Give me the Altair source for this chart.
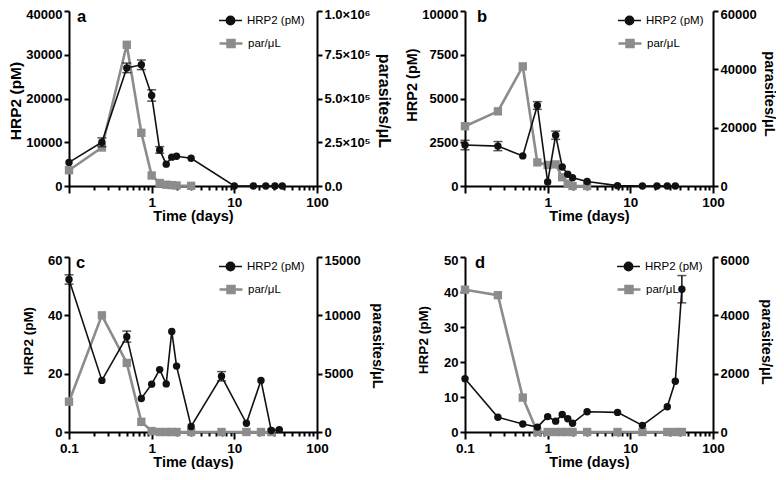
import altair as alt
import pandas as pd

FONT = "Liberation Sans"
S1 = "HRP2 (pM)"
S2 = "par/μL"
BLACK = "#111111"
GREY = "#8c8c8c"

# ---------------- data ----------------
a_t = [0.1, 0.25, 0.5, 0.75, 1, 1.25, 1.5, 1.75, 2, 3, 10, 17, 24, 31, 38]
a_hrp2 = [5400, 10000, 27000, 27700, 20700, 8250, 5000, 6600, 6800, 6350, 0, 0, 0, 0, 0]
a_par_t = [0.1, 0.25, 0.5, 0.75, 1, 1.25, 1.5, 1.75, 2, 3]
a_par = [90000, 220000, 807000, 304000, 60000, 17000, 7500, 5000, 3000, 1000]
a_err_t = [0.25, 0.5, 0.75, 1, 1.25]
a_err = [1000, 1100, 1100, 1300, 750]

b_t = [0.1, 0.25, 0.5, 0.75, 1, 1.25, 1.5, 1.75, 2, 3, 7, 14, 21, 28, 35]
b_hrp2 = [2340, 2280, 1720, 4600, 225, 2900, 1085, 670, 470, 260, 20, 0, 0, 0, 0]
b_par_t = [0.1, 0.25, 0.5, 0.75, 1, 1.25, 1.5, 1.75, 2, 3]
b_par = [20500, 25600, 41000, 8100, 7200, 7400, 3000, 800, 0, 0]
b_err_t = [0.1, 0.25, 0.75, 1.25]
b_err = [270, 260, 220, 235]

c_t = [0.1, 0.25, 0.5, 0.75, 1, 1.25, 1.5, 1.75, 2, 3, 7, 14, 21, 28, 35]
c_hrp2 = [52.3, 17.7, 32.7, 11.5, 16.4, 21.4, 16.5, 34.5, 22.6, 1.9, 19.1, 3.0, 17.7, 0.5, 0.8]
c_par_t = [0.1, 0.25, 0.5, 0.75, 1, 1.25, 1.5, 1.75, 2, 3, 7, 14, 21, 28]
c_par = [2600, 10000, 5920, 870, 80, 0, 0, 0, 0, 0, 0, 0, 0, 0]
c_err_t = [0.1, 0.5, 7]
c_err = [1.6, 1.9, 1.6]

d_t = [0.1, 0.25, 0.5, 0.75, 1, 1.25, 1.5, 1.75, 2, 3, 7, 14, 28, 35, 42]
d_hrp2 = [15.2, 4.2, 2.3, 1.4, 4.4, 3.1, 5.0, 3.8, 2.5, 5.8, 5.6, 1.9, 7.2, 14.5, 40.8]
d_par_t = [0.1, 0.25, 0.5, 0.75, 1, 1.25, 1.5, 1.75, 2, 3, 7, 14, 28, 35, 42]
d_par = [4880, 4690, 1180, 0, 0, 0, 0, 0, 0, 0, 0, 0, 0, 0, 0]
d_err_t = [42]
d_err = [3.9]

x_ticks = [0.1, 0.2, 0.3, 0.4, 0.5, 0.6, 0.7, 0.8, 0.9,
           1, 2, 3, 4, 5, 6, 7, 8, 9,
           10, 20, 30, 40, 50, 60, 70, 80, 90, 100]

a_left_ticks = [0, 10000, 20000, 30000, 40000]
a_right_ticks = [0, 250000, 500000, 750000, 1000000]
b_left_ticks = [0, 2500, 5000, 7500, 10000]
b_right_ticks = [0, 20000, 40000, 60000]
c_left_ticks = [0, 20, 40, 60]
c_right_ticks = [0, 5000, 10000, 15000]
d_left_ticks = [0, 10, 20, 30, 40, 50]
d_right_ticks = [0, 2000, 4000, 6000]

# ---------------- layout ----------------
W, H = 248, 175

DECADE = "abs(log(datum.value)/LN10 - round(log(datum.value)/LN10)) < 0.001"
SCI = ("datum.value == 0 ? '0.0' : datum.value >= 1000000 ? "
       "format(datum.value/1000000, '.1f') + '×10⁶' : "
       "format(datum.value/100000, '.1f') + '×10⁵'")

CIRC = "M-1,0H1M0.36,0A0.36,0.36,0,1,1,-0.36,0A0.36,0.36,0,1,1,0.36,0Z"
SQR = "M-1,0H1M-0.3,-0.3H0.3V0.3H-0.3Z"


def legend(legx, legy, shape, colour, sw):
    return alt.Legend(
        orient="none", legendX=legx, legendY=legy, title=None,
        symbolSize=529, symbolType=shape, symbolFillColor=colour,
        symbolStrokeColor=colour, symbolStrokeWidth=sw, symbolOpacity=1,
        labelFontSize=11.5, labelFont=FONT, labelColor="black",
        labelFontWeight="normal", padding=0, rowPadding=0, labelOffset=4,
    )


def top_shift(vmax):
    return {"condition": {"test": "datum.value >= " + str(vmax), "value": 3.5},
            "value": 0}


def panel(letter, t, hrp, pt, par, et, ee, lmax, lv, rmax, rv, rexpr,
          show01, ltx, lty, lf, rtx, rty, rf, legx, lx):
    hrp_df = pd.DataFrame({"t": t, "v": hrp, "s": S1})
    par_df = pd.DataFrame({"t": pt, "v": par, "s": S2})
    center = dict(zip(t, hrp))
    err_df = pd.DataFrame({
        "t": et,
        "lo": [center[x] - e for x, e in zip(et, ee)],
        "hi": [center[x] + e for x, e in zip(et, ee)],
    })

    if show01:
        lab = DECADE + " ? format(datum.value, '~g') : ''"
    else:
        lab = "(" + DECADE + ") && datum.value > 0.5 ? format(datum.value, '~g') : ''"

    xaxis = alt.Axis(values=x_ticks, title="Time (days)", labelExpr=lab,
                     tickSize={"condition": {"test": DECADE, "value": 7}, "value": 4},
                     labelFlush=False, labelOverlap=False, labelPadding=2,
                     labelFontSize=13.5, titleFontSize=14.5, titlePadding=1)
    X = alt.X("t:Q", scale=alt.Scale(type="log", domain=[0.1, 100], nice=False),
              axis=xaxis)

    laxis = alt.Axis(orient="left", values=lv, format="d", title="HRP2 (pM)",
                     titleFontSize=lf, titleX=ltx, titleY=lty, titleAngle=-90,
                     titleBaseline="bottom", titleAlign="center",
                     labelFlush=False, labelOffset=top_shift(lmax))
    lscale = alt.Scale(domain=[0, lmax], nice=False)

    rkw = dict(orient="right", values=rv, title="parasites/μL", titleFontSize=rf,
               titleX=rtx, titleY=rty, titleAngle=90, titleBaseline="bottom",
               titleAlign="center", labelFlush=False, labelOffset=top_shift(rmax))
    if rexpr:
        raxis = alt.Axis(labelExpr=rexpr, **rkw)
    else:
        raxis = alt.Axis(format="d", **rkw)
    rscale = alt.Scale(domain=[0, rmax], nice=False)

    col1 = alt.Color("s:N", scale=alt.Scale(domain=[S1], range=[BLACK]),
                     legend=legend(legx, -3, CIRC, BLACK, 1.6))
    col2 = alt.Stroke("s:N", scale=alt.Scale(domain=[S2], range=[GREY]),
                      legend=legend(legx, 19.5, SQR, GREY, 2.6))

    YL = alt.Y("v:Q", scale=lscale, axis=laxis)
    YR = alt.Y("v:Q", scale=rscale, axis=raxis)

    par_line = alt.Chart(par_df).mark_line(strokeWidth=2.6).encode(x=X, y=YR, stroke=col2)
    par_pts = alt.Chart(par_df).mark_point(shape="square", filled=True, size=70,
                                            opacity=1, color=GREY).encode(x=X, y=YR)
    hrp_line = alt.Chart(hrp_df).mark_line(strokeWidth=1.6).encode(x=X, y=YL, color=col1)
    hrp_pts = alt.Chart(hrp_df).mark_point(shape="circle", filled=True, size=55,
                                            opacity=1, color=BLACK).encode(x=X, y=YL)
    err = alt.Chart(err_df).mark_errorbar(ticks=True, size=9, thickness=1.5,
                                          color=BLACK).encode(
        x=X, y=alt.Y("lo:Q", scale=lscale, axis=laxis), y2="hi:Q")
    txt = alt.Chart(pd.DataFrame({"l": [letter]})).mark_text(
        align="left", baseline="alphabetic", fontSize=16.5, fontWeight="bold",
        font=FONT, color="black").encode(text="l:N", x=alt.value(lx), y=alt.value(11))

    right = alt.layer(par_line, par_pts)
    left = alt.layer(hrp_line, err, hrp_pts, txt)
    return alt.layer(right, left).resolve_scale(y="independent").properties(
        width=W, height=H)


pa = panel("a", a_t, a_hrp2, a_par_t, a_par, a_err_t, a_err, 40000, a_left_ticks,
           1000000, a_right_ticks, SCI, False, -46, H / 2 + 2, 15.5, 58, H / 2 + 2, 16, 149, 8)
pb = panel("b", b_t, b_hrp2, b_par_t, b_par, b_err_t, b_err, 10000, b_left_ticks,
           60000, b_right_ticks, None, False, -46, H / 2 - 14, 14.5, 48, H / 2 - 5, 14.5, 152, 12)
pc = panel("c", c_t, c_hrp2, c_par_t, c_par, c_err_t, c_err, 60, c_left_ticks,
           15000, c_right_ticks, None, True, -34, H / 2 - 4, 13.5, 52, H / 2 + 1, 14.5, 149, 7)
pd_ = panel("d", d_t, d_hrp2, d_par_t, d_par, d_err_t, d_err, 50, d_left_ticks,
            6000, d_right_ticks, None, True, -35, H / 2 - 5, 13.5, 45, H / 2 - 3, 14.5, 151, 10)

chart = alt.concat(pa, pb, pc, pd_, columns=2,
                   spacing={"row": 71, "column": 148}, bounds="flush").resolve_scale(
    color="independent", stroke="independent").resolve_legend(
    color="independent", stroke="independent").properties(
    padding=0).configure_view(stroke=None).configure_axis(
    domainColor="black", domainWidth=2, tickColor="black", tickWidth=2, tickSize=5,
    labelFont=FONT, labelFontWeight="bold", labelFontSize=13, labelColor="black",
    titleFont=FONT, titleFontWeight="bold", titleColor="black", grid=False,
    labelPadding=2)

chart.save("out.html", embed_options={"renderer": "svg", "actions": False})
